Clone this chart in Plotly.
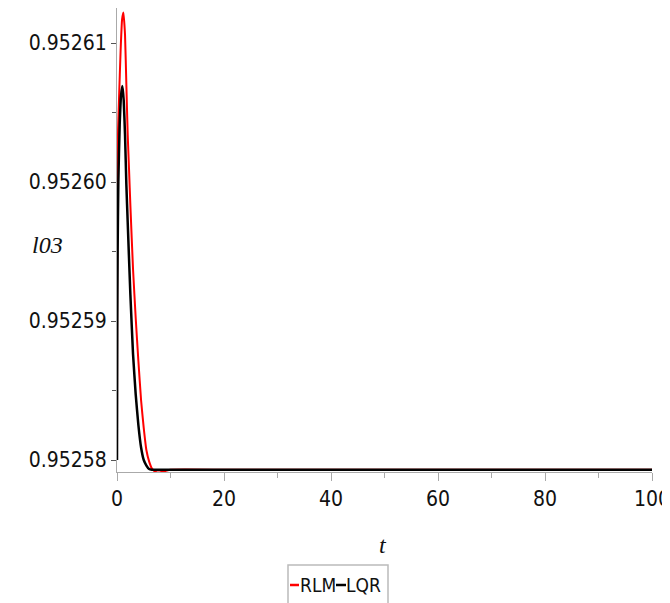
import plotly.graph_objects as go

# ---- data ----
t_lqr = [0, 0.05, 0.12, 0.25, 0.5, 0.75, 1.0, 1.25, 1.5, 1.75, 2.0, 2.5, 3.0, 3.5, 4.0, 4.5, 5.0, 5.5, 6.0, 6.5,
         10, 20, 30, 40, 50, 60, 70, 80, 90, 100]
l03_lqr = [0.9525800, 0.9525894, 0.9525951, 0.9526000, 0.9526041, 0.9526062, 0.9526069, 0.9526059, 0.9526034,
           0.9525998, 0.9525971, 0.9525919, 0.9525876, 0.9525847, 0.9525825, 0.9525809, 0.9525800, 0.9525796,
           0.95257935, 0.9525793,
           0.9525793, 0.9525793, 0.9525793, 0.9525793, 0.9525793, 0.9525793, 0.9525793, 0.9525793, 0.9525793, 0.9525793]

t_rlm = [0, 0.02, 0.06, 0.2, 0.37, 0.68, 0.95, 1.2, 1.5, 1.75, 2.0, 2.25, 2.5, 3.0, 3.5, 4.0, 4.5, 5.0, 5.5, 6.0,
         6.5, 7.0, 7.5, 8.0, 9.0, 10, 20, 30, 40, 50, 60, 70, 80, 90, 100]
l03_rlm = [0.9525800, 0.9525915, 0.9526000, 0.9526037, 0.9526059, 0.9526095, 0.9526117, 0.9526122, 0.9526106,
           0.9526070, 0.9526034, 0.9526009, 0.9525983, 0.9525937, 0.9525902, 0.9525871, 0.9525843, 0.9525823,
           0.9525807, 0.9525799, 0.9525794, 0.9525792, 0.9525791, 0.9525791, 0.9525792, 0.9525793,
           0.9525793, 0.9525793, 0.9525793, 0.9525793, 0.9525793, 0.9525793, 0.9525793, 0.9525793, 0.9525793]

x_ticks = [0, 20, 40, 60, 80, 100]
y_ticks = [0.95258, 0.95259, 0.95260, 0.95261]
y_tick_labels = ["0.95258", "0.95259", "0.95260", "0.95261"]

TICKFONT = dict(family="DejaVu Sans Condensed, Liberation Sans", size=21, color="#111")
LEGFONT = dict(family="DejaVu Sans Condensed, Liberation Sans", size=19, color="#111")

fig = go.Figure()
fig.add_trace(go.Scatter(x=t_rlm, y=l03_rlm, mode="lines", name="RLM",
                         line=dict(color="#ff0000", width=2, shape="spline", smoothing=0.4)))
fig.add_trace(go.Scatter(x=t_lqr, y=l03_lqr, mode="lines", name="LQR",
                         line=dict(color="#000000", width=2.5, shape="spline", smoothing=0.4)))

# page has an 8px body margin: figure is sized/offset to compensate
fig.update_layout(
    width=662, height=595,
    margin=dict(l=109, r=18, t=0, b=131),
    plot_bgcolor="white", paper_bgcolor="white",
    showlegend=False,
)
fig.update_xaxes(
    range=[0, 100], tickvals=x_ticks, ticktext=[str(v) for v in x_ticks], automargin=False,
    ticklabeloverflow="allow",
    showgrid=False, zeroline=False, showline=True, linecolor="#aaaaaa", linewidth=1,
    ticks="outside", ticklen=8, tickcolor="#aaaaaa", tickfont=TICKFONT,
    minor=dict(dtick=10, tick0=0, ticks="outside", ticklen=5, tickcolor="#aaaaaa"),
)
fig.update_yaxes(
    range=[0.952579137, 0.952612518], tickvals=y_ticks, ticktext=y_tick_labels, automargin=False,
    ticklabeloverflow="allow",
    showgrid=False, zeroline=False, showline=True, linecolor="#aaaaaa", linewidth=1,
    ticks="outside", ticklen=5, tickcolor="#555555", tickfont=TICKFONT,
    minor=dict(tickvals=[0.952585, 0.952595, 0.952605], ticks="outside", ticklen=4, tickcolor="#555555"),
)


# pixel (page) -> paper helpers
def px(xp):
    return (xp - 117) / 535


def py(yp):
    return (472 - yp) / 464


TITLEFONT = dict(family="Liberation Serif, DejaVu Serif", size=24, color="#111")
fig.add_annotation(text="<i>t</i>", x=px(383), y=py(545), xref="paper", yref="paper",
                   showarrow=False, font=TITLEFONT, xanchor="center", yanchor="middle")
fig.add_annotation(text="<i>l03</i>", x=px(47), y=py(245), xref="paper", yref="paper",
                   showarrow=False, font=TITLEFONT, xanchor="center", yanchor="middle")

# compact legend
fig.add_shape(type="rect", xref="paper", yref="paper", x0=px(288), x1=px(388), y0=py(615), y1=py(565),
              line=dict(color="#bbbbbb", width=1.5), fillcolor="white")
fig.add_shape(type="line", xref="paper", yref="paper", x0=px(290), x1=px(299), y0=py(585), y1=py(585),
              line=dict(color="#ff0000", width=2.5))
fig.add_shape(type="line", xref="paper", yref="paper", x0=px(336), x1=px(346), y0=py(585), y1=py(585),
              line=dict(color="#000000", width=2.5))
fig.add_annotation(text="RLM", x=px(300), y=py(585), xref="paper", yref="paper", showarrow=False,
                   font=LEGFONT, xanchor="left", yanchor="middle", xshift=-2)
fig.add_annotation(text="LQR", x=px(346), y=py(585), xref="paper", yref="paper", showarrow=False,
                   font=LEGFONT, xanchor="left", yanchor="middle", xshift=-2)

fig.write_html("out.html")
